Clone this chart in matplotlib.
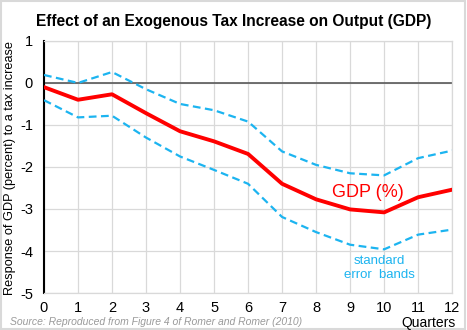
import matplotlib.pyplot as plt
from matplotlib.patches import Rectangle

plt.rcParams['font.family'] = ['Liberation Sans', 'DejaVu Sans']
plt.rcParams['axes.unicode_minus'] = False

quarters = list(range(13))
gdp = [-0.10, -0.40, -0.27, -0.72, -1.15, -1.39, -1.69, -2.40, -2.77, -3.01, -3.08, -2.72, -2.54]
upper = [0.19, 0.00, 0.26, -0.15, -0.50, -0.65, -0.92, -1.63, -1.95, -2.15, -2.20, -1.79, -1.61]
lower = [-0.41, -0.82, -0.78, -1.30, -1.75, -2.07, -2.40, -3.19, -3.55, -3.85, -3.96, -3.61, -3.49]

red = '#FF0000'
blue = '#1CB4F0'

fig = plt.figure(figsize=(4.67, 3.30), dpi=100)
ax = fig.add_axes([0.0942, 0.112, 0.874, 0.764])

ax.plot(quarters, upper, color=blue, lw=1.6, ls=(0, (3.5, 2)), zorder=3)
ax.plot(quarters, lower, color=blue, lw=1.6, ls=(0, (3.5, 2)), zorder=3)
ax.plot(quarters, gdp, color=red, lw=2.8, zorder=4)
ax.axhline(0, color='#595959', lw=1.2, zorder=2)

ax.set_xlim(0, 12)
ax.set_ylim(-5, 1)
ax.set_xticks(quarters)
ax.set_yticks(range(-5, 2))
ax.grid(True, color='#D9D9D9', lw=0.9, zorder=0)
ax.tick_params(length=0, labelsize=10.5, colors='black', pad=6)
ax.tick_params(axis='y', pad=8)
for side in ['top', 'right', 'bottom']:
    ax.spines[side].set_color('#D9D9D9')
    ax.spines[side].set_linewidth(0.9)
ax.spines['left'].set_color('black')
ax.spines['left'].set_linewidth(1.5)

# y label placed by hand so it sits close to the left edge
fig.text(0.022, 0.492, 'Response of GDP (percent) to a tax increase', rotation=90,
         ha='center', va='center', fontsize=9.2)
ax.text(9.53, -2.6, 'GDP (%)', color=red, fontsize=13, ha='center', va='center')
ax.text(9.85, -4.4, 'standard\nerror  bands', color=blue, fontsize=9.5,
        ha='center', va='center', linespacing=1.15)

fig.text(0.5, 0.935, 'Effect of an Exogenous Tax Increase on Output (GDP)',
         ha='center', va='center', fontsize=11.2, fontweight='bold')
fig.text(0.022, 0.025, 'Source: Reproduced from Figure 4 of Romer and Romer (2010)',
         ha='left', va='center', fontsize=7.5, style='italic', color='#9A9A9A')
fig.text(0.917, 0.022, 'Quarters', ha='center', va='center', fontsize=10)

fig.patches.append(Rectangle((0.002, 0.003), 0.994, 0.993, transform=fig.transFigure,
                             fill=False, ec='#D9D9D9', lw=1.5))

fig.savefig('out.png', dpi=100)
